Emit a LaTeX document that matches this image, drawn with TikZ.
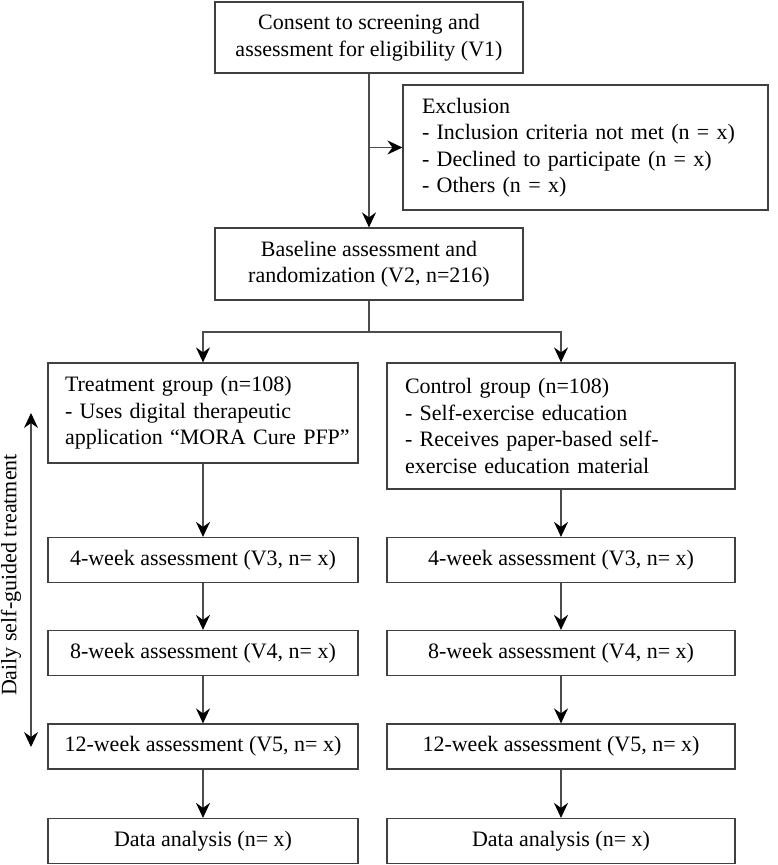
\documentclass[tikz,border=0pt]{standalone}
\usepackage{fontspec}
\setmainfont{Liberation Serif}
\usetikzlibrary{arrows.meta}
\begin{document}
\begin{tikzpicture}[x=1pt,y=1pt,
  every node/.style={font=\fontsize{22}{26.5}\selectfont, text=black},
  boxc/.style={draw=black!75, line width=1.2pt, inner sep=0pt, align=center},
  boxl/.style={draw=black!75, line width=1.2pt, inner ysep=0pt, align=left},
  conn/.style={draw=black!70, line width=1.2pt},
  tip/.style={},
  arr/.style={conn, -{Stealth[length=15pt,width=14pt,inset=5pt,color=black]}},
  darr/.style={conn, {Stealth[length=15pt,width=14pt,inset=5pt,color=black]}-{Stealth[length=15pt,width=14pt,inset=5pt,color=black]}}
]
\useasboundingbox (0,0) rectangle (778,-865);

\node[boxc, minimum width=308, minimum height=71] (c1) at (369,-37.5)
  {Consent to screening and\\assessment for eligibility (V1)};
\node[boxl, inner xsep=19, text width=327, minimum height=125] (excl) at (585.5,-147.5)
  {Exclusion\\\mbox{- Inclusion criteria not met (n = x)}\\\mbox{- Declined to participate (n = x)}\\- Others (n = x)};
\node[boxc, minimum width=308, minimum height=72] (c2) at (369,-264)
  {Baseline assessment and\\randomization (V2, n=216)};

\node[boxl, inner xsep=17, text width=276, minimum height=100] (t1) at (203,-413)
  {Treatment group (n=108)\\- Uses digital therapeutic\\\mbox{application “MORA Cure PFP”}};
\node[boxl, inner xsep=18, text width=312, minimum height=126] (k1) at (561,-426)
  {Control group (n=108)\\- Self-exercise education\\- Receives paper-based self-\\exercise education material};

\node[boxc, minimum width=310, minimum height=45] (t2) at (203,-560) {4-week assessment (V3, n= x)};
\node[boxc, minimum width=310, minimum height=45] (t3) at (203,-653) {8-week assessment (V4, n= x)};
\node[boxc, minimum width=310, minimum height=45] (t4) at (203,-746.5) {12-week assessment (V5, n= x)};
\node[boxc, minimum width=310, minimum height=45] (t5) at (203,-841) {Data analysis (n= x)};

\node[boxc, minimum width=348, minimum height=45] (k2) at (561,-560) {4-week assessment (V3, n= x)};
\node[boxc, minimum width=348, minimum height=45] (k3) at (561,-653) {8-week assessment (V4, n= x)};
\node[boxc, minimum width=348, minimum height=45] (k4) at (561,-746.5) {12-week assessment (V5, n= x)};
\node[boxc, minimum width=348, minimum height=45] (k5) at (561,-841) {Data analysis (n= x)};

% top connectors
\draw[arr] (c1) -- (c2);
\draw[arr] (c1.south |- excl.west) -- (excl.west);

\coordinate (split) at (369,-332);
\draw[conn] (c2) -- (split);
\draw[arr] (split) -| (t1);
\draw[arr] (split) -| (k1);

\draw[arr] (t1) -- (t2);
\draw[arr] (t2) -- (t3);
\draw[arr] (t3) -- (t4);
\draw[arr] (t4) -- (t5);
\draw[arr] (k1) -- (k2);
\draw[arr] (k2) -- (k3);
\draw[arr] (k3) -- (k4);
\draw[arr] (k4) -- (k5);

% side timeline
\coordinate (ltop) at (31,-413);
\coordinate (lbot) at (31,-747);
\draw[darr] (ltop) -- (lbot);
\node[rotate=90, inner sep=0pt] (lbl) at (11,-575) {Daily self-guided treatment};
\end{tikzpicture}
\end{document}
